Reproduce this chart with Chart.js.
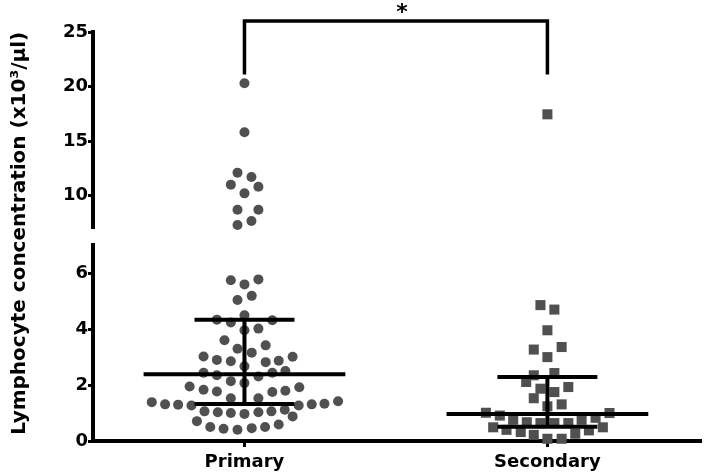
<!DOCTYPE html>
<html><head><meta charset="utf-8">
<script src="https://cdn.jsdelivr.net/npm/chart.js@4.4.1/dist/chart.umd.min.js"></script>
<style>html,body{margin:0;padding:0;background:#fff;}#wrap{width:709px;height:475px;position:relative;}</style>
</head><body><div id="wrap"><canvas id="c"></canvas></div>
<script>
// ---- data ----
const categories = ['Primary', 'Secondary'];
const yTitle = ' Lymphocyte concentration (x10\u00B3/\u03BCl)';
const primaryValues = [20.3, 15.8, 12.1, 11.7, 11.0, 10.8, 10.2, 8.7, 8.7, 7.3, 7.66,
  5.75, 5.60, 5.78, 5.04, 5.19, 4.50, 4.34, 4.24, 4.32, 3.96, 4.02, 3.60, 3.30, 3.16, 3.42,
  3.02, 2.90, 2.85, 2.82, 2.87, 3.01, 2.67, 2.44, 2.35, 2.14, 2.07, 2.31, 2.44, 2.50,
  1.95, 1.83, 1.77, 1.75, 1.80, 1.92, 1.53, 1.53, 1.39, 1.31, 1.30, 1.27, 1.27, 1.31, 1.33, 1.42,
  1.06, 1.03, 1.00, 0.97, 1.03, 1.06, 1.12, 0.71, 0.88, 0.50, 0.44, 0.40, 0.46, 0.50, 0.59];
const primaryJitter = [0, 0, -0.023, 0.023, -0.045, 0.046, 0, -0.023, 0.046, -0.023, 0.023,
  -0.045, 0, 0.046, -0.023, 0.024, 0, -0.091, -0.045, 0.092, 0, 0.046, -0.066, -0.023, 0.024, 0.070,
  -0.135, -0.091, -0.045, 0.070, 0.113, 0.159, 0, -0.135, -0.091, -0.045, 0, 0.046, 0.092, 0.135,
  -0.181, -0.135, -0.091, 0.092, 0.135, 0.181, -0.045, 0.046, -0.306, -0.262, -0.219, -0.175, 0.179, 0.222, 0.264, 0.309,
  -0.132, -0.088, -0.045, 0, 0.046, 0.089, 0.133, -0.157, 0.159, -0.113, -0.069, -0.023, 0.024, 0.068, 0.113];
const secondaryValues = [17.45, 4.86, 4.70, 3.96, 3.27, 3.36, 3.00, 2.35, 2.43, 2.11, 1.87, 1.93, 1.75,
  1.53, 1.24, 1.31, 1.01, 0.91, 1.00, 0.76, 0.67, 0.64, 0.64, 0.64, 0.76, 0.83, 0.49, 0.49,
  0.40, 0.32, 0.38, 0.26, 0.22, 0.08, 0.08];
const secondaryJitter = [0, -0.023, 0.023, 0, -0.045, 0.047, 0, -0.045, 0.023, -0.070, -0.023, 0.069, 0.023,
  -0.045, 0, 0.047, -0.203, -0.157, 0.205, -0.113, -0.068, -0.023, 0.023, 0.069, 0.113, 0.159, -0.179, 0.183,
  -0.135, -0.088, 0.137, 0.092, -0.045, 0, 0.047];
const medians = [2.39, 0.97];
const q1Values = [1.32, 0.51];
const q3Values = [4.34, 2.29];
const lowTicks = [0, 2, 4, 6];
const highTicks = [10, 15, 20, 25];
const breakValue = 7;
const axisTop = 25;
const bracketFoot = 21.1;
const bracketTop = 26.0;
const significance = '*';

// ---- build chart ----
const FONT = '"DejaVu Sans", "Liberation Sans", Arial, sans-serif';
const GREY = '#505050';

function pick(values, jitter, center, high) {
  const out = [];
  values.forEach((v, i) => {
    if ((v > breakValue) === high) out.push({x: center + jitter[i], y: v});
  });
  return out;
}
function summary(i) {
  const c = i, L = 0.333, S = 0.165;
  return [
    {x: c - L, y: medians[i]}, {x: c + L, y: medians[i]}, {x: c, y: null},
    {x: c - S, y: q3Values[i]}, {x: c + S, y: q3Values[i]}, {x: c, y: null},
    {x: c - S, y: q1Values[i]}, {x: c + S, y: q1Values[i]}, {x: c, y: null},
    {x: c, y: q1Values[i]}, {x: c, y: q3Values[i]}
  ];
}
const dotStyle = (style, r) => ({pointStyle: style, pointRadius: r, pointHoverRadius: r,
  backgroundColor: GREY, borderColor: GREY, borderWidth: 0, showLine: false, clip: false, order: 2});
const lineStyle = (axis, w) => ({yAxisID: axis, showLine: true, pointRadius: 0, pointHoverRadius: 0,
  borderColor: '#000', borderWidth: w, spanGaps: false, clip: false, borderCapStyle: 'butt',
  borderJoinStyle: 'miter', tension: 0, order: 1});

const datasets = [
  Object.assign({label: categories[0], yAxisID: 'yLow', data: pick(primaryValues, primaryJitter, 0, false)}, dotStyle('circle', 5)),
  Object.assign({label: categories[0], yAxisID: 'yHigh', data: pick(primaryValues, primaryJitter, 0, true)}, dotStyle('circle', 5)),
  Object.assign({label: categories[1], yAxisID: 'yLow', data: pick(secondaryValues, secondaryJitter, 1, false)}, dotStyle('rect', 7.1)),
  Object.assign({label: categories[1], yAxisID: 'yHigh', data: pick(secondaryValues, secondaryJitter, 1, true)}, dotStyle('rect', 7.1)),
  Object.assign({label: 'stats ' + categories[0], data: summary(0)}, lineStyle('yLow', 4)),
  Object.assign({label: 'stats ' + categories[1], data: summary(1)}, lineStyle('yLow', 4)),
  Object.assign({label: 'bracket', data: [{x: 0, y: bracketFoot}, {x: 0, y: bracketTop}, {x: 1, y: bracketTop}, {x: 1, y: bracketFoot}]}, lineStyle('yHigh', 3.5))
];

const Y_WIDTH = 93;
const yAxisBase = (min, max, ticks, weight) => ({
  type: 'linear', position: 'left', stack: 'broken', stackWeight: weight, min: min, max: max,
  afterBuildTicks: s => { s.ticks = ticks.map(v => ({value: v})); },
  afterFit: s => { s.width = Y_WIDTH; },
  border: {display: true, color: '#000', width: 4},
  grid: {display: true, drawOnChartArea: false, drawTicks: true, tickLength: 5, tickWidth: 3, tickColor: '#000'},
  ticks: {color: '#000', padding: 0, font: {family: FONT, size: 18, weight: 'bold'}}
});

const starPlugin = {
  id: 'star',
  afterDraw(chart) {
    const ctx = chart.ctx;
    const x = (chart.scales.x.getPixelForValue(0) + chart.scales.x.getPixelForValue(1)) / 2 + 6;
    const cy = chart.scales.yHigh.getPixelForValue(bracketTop) - 13;
    ctx.save();
    ctx.fillStyle = '#000';
    ctx.font = 'bold 22px ' + FONT;
    ctx.textAlign = 'center';
    ctx.textBaseline = 'alphabetic';
    const m = ctx.measureText(significance);
    const base = cy + (m.actualBoundingBoxAscent - m.actualBoundingBoxDescent) / 2;
    ctx.fillText(significance, x, base);
    ctx.restore();
  }
};

new Chart(document.getElementById('c'), {
  type: 'scatter',
  data: {datasets: datasets},
  options: {
    responsive: true, maintainAspectRatio: false, animation: false,
    layout: {padding: {top: 32, right: 0, bottom: 0, left: 0}},
    plugins: {legend: {display: false}, tooltip: {enabled: false}},
    events: [],
    scales: {
      x: {
        type: 'linear', position: 'bottom', min: -0.5, max: 1.51,
        afterBuildTicks: s => { s.ticks = categories.map((c, i) => ({value: i})); },
        afterFit: s => { s.height = 34; },
        border: {display: true, color: '#000', width: 4},
        grid: {display: true, drawOnChartArea: false, drawTicks: true, tickLength: 6, tickWidth: 3, tickColor: '#000'},
        ticks: {color: '#000', padding: 5, autoSkip: false, maxRotation: 0,
          font: {family: FONT, size: 18, weight: 'bold'},
          callback: v => categories[v] !== undefined ? categories[v] : ''}
      },
      yLow: yAxisBase(0, breakValue, lowTicks, 195.5),
      yGap: {
        type: 'linear', position: 'left', stack: 'broken', stackWeight: 17, min: 0, max: 1,
        afterFit: s => { s.width = Y_WIDTH; },
        border: {display: false}, grid: {display: false}, ticks: {display: false},
        title: {display: true, text: yTitle, color: '#000', padding: {top: 8, bottom: 0},
          font: {family: FONT, size: 20, weight: 'bold'}}
      },
      yHigh: yAxisBase(breakValue, axisTop, highTicks, 196)
    }
  },
  plugins: [starPlugin]
});
</script>
</body></html>
